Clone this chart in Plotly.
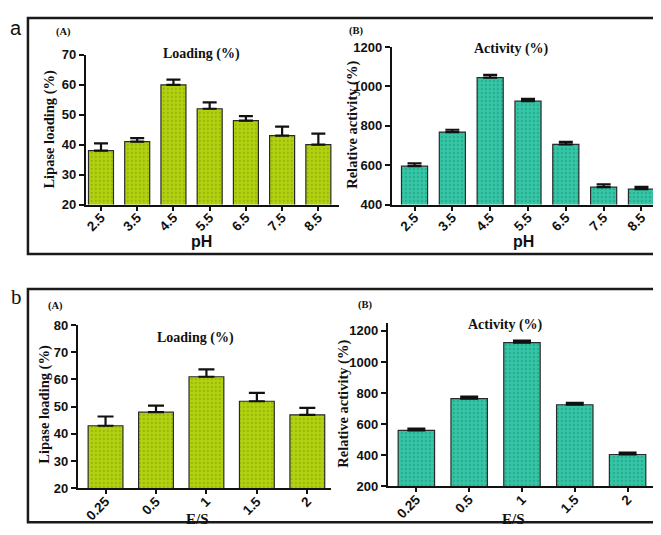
import plotly.graph_objects as go

ph_labels = ["2.5", "3.5", "4.5", "5.5", "6.5", "7.5", "8.5"]
ph_loading = [38, 41, 60, 52, 48, 43, 40]
ph_loading_err = [2.4, 1.2, 1.7, 2.1, 1.5, 3.0, 3.7]
ph_activity = [595, 768, 1045, 925, 706, 488, 478]
ph_activity_err = [14, 12, 14, 12, 12, 14, 12]

es_labels = ["0.25", "0.5", "1", "1.5", "2"]
es_loading = [43, 48, 61, 52, 47]
es_loading_err = [3.4, 2.4, 2.7, 3.1, 2.6]
es_activity = [560, 765, 1125, 725, 405]
es_activity_err = [12, 12, 12, 12, 12]

W, H = 661, 535
GREEN = "#b2d20f"
GREEN_DOT = "#7c9a0a"
TEAL = "#34c6a6"
TEAL_DOT = "#1d8a73"
SERIF = "Liberation Serif"
SANS = "Liberation Sans"

def px(x):
    return x / W

def py(y):
    return 1 - y / H

fig = go.Figure()

def add_bar(cats, vals, errs, color, dot, xa, ya, cap):
    fig.add_trace(go.Bar(
        x=cats, y=vals, xaxis=xa, yaxis=ya,
        marker=dict(color=color, line=dict(color="#2a2a2a", width=1.2),
                    pattern=dict(shape=".", fgcolor=dot, size=4, solidity=0.25)),
        error_y=dict(type="data", symmetric=False, array=errs,
                     arrayminus=[0] * len(errs), color="#111111",
                     thickness=2.2, width=cap),
        showlegend=False, hoverinfo="x+y",
    ))

add_bar(ph_labels, ph_loading, ph_loading_err, GREEN, GREEN_DOT, "x", "y", 7)
add_bar(ph_labels, ph_activity, ph_activity_err, TEAL, TEAL_DOT, "x2", "y2", 7)
add_bar(es_labels, es_loading, es_loading_err, GREEN, GREEN_DOT, "x3", "y3", 8)
add_bar(es_labels, es_activity, es_activity_err, TEAL, TEAL_DOT, "x4", "y4", 9)

def xaxis(domain, rng, anchor):
    return dict(domain=domain, range=rng, anchor=anchor, type="category",
                showline=True, linecolor="#111111", linewidth=2,
                ticks="outside", ticklen=4, tickwidth=1.5, tickcolor="#111111",
                tickangle=-45, ticklabelstandoff=-6,
                tickfont=dict(family=SANS, size=13.5, color="#111111", weight="bold"),
                showgrid=False, zeroline=False, fixedrange=True)

def yaxis(domain, rng, dtick, anchor):
    return dict(domain=domain, range=rng, anchor=anchor, dtick=dtick,
                showline=True, linecolor="#111111", linewidth=2,
                ticks="outside", ticklen=5, tickwidth=2, tickcolor="#111111",
                tickfont=dict(family=SANS, size=13, color="#111111", weight="bold"),
                showgrid=False, zeroline=False, fixedrange=True)

fig.update_layout(
    width=W, height=H, margin=dict(l=0, r=0, t=0, b=0),
    paper_bgcolor="white", plot_bgcolor="white", bargap=0.31,
    xaxis=xaxis([px(76), px(330)], [-0.42, 6.57], "y"),
    yaxis=yaxis([py(195), py(41)], [20, 70], 10, "x"),
    xaxis2=xaxis([px(383), px(655)], [-0.6, 6.57], "y2"),
    yaxis2=yaxis([py(195), py(33)], [400, 1200], 200, "x2"),
    xaxis3=xaxis([px(68), px(322)], [-0.55, 4.47], "y3"),
    yaxis3=yaxis([py(487), py(319)], [20, 80], 10, "x3"),
    xaxis4=xaxis([px(379), px(647)], [-0.54, 4.52], "y4"),
    yaxis4=yaxis([py(485), py(317)], [200, 1250], 200, "x4"),
)

# outer frames
for (x0, y0, x1, y1) in [(18, 3, 657, 246), (18, 282, 654, 522)]:
    fig.add_shape(type="rect", xref="paper", yref="paper",
                  x0=px(x0), x1=px(x1), y0=py(y1), y1=py(y0),
                  line=dict(color="#1a1a1a", width=2.5))

def ann(text, x, y, size, family, angle=0, bold=True):
    fig.add_annotation(text=f"<b>{text}</b>" if bold else text,
                       xref="paper", yref="paper",
                       x=px(x), y=py(y), xanchor="center", yanchor="middle",
                       showarrow=False, textangle=angle,
                       font=dict(family=family, size=size, color="#111111"))

# panel letters
ann("a", 6, 13, 20, SANS, bold=False)
ann("b", 7, 290, 21, SERIF, bold=False)

# top row
ann("(A)", 54, 17, 10.5, SERIF)
ann("Loading (%)", 192, 40, 14, SERIF)
ann("Lipase loading (%)", 40, 117, 14.5, SERIF, angle=-90)
ann("pH", 192, 233, 16, SANS)
ann("(B)", 348, 16, 10.5, SERIF)
ann("Activity (%)", 503, 35, 14, SERIF)
ann("Relative activity (%)", 344, 113, 14.5, SERIF, angle=-90)
ann("pH", 515, 233, 16, SANS)

# bottom row
ann("(A)", 46, 299, 10.5, SERIF)
ann("Loading (%)", 186, 332, 14, SERIF)
ann("Lipase loading (%)", 35, 400, 14.5, SERIF, angle=-90)
ann("E/S", 188, 519, 15, SERIF)
ann("(B)", 357, 298, 10.5, SERIF)
ann("Activity (%)", 497, 319, 14, SERIF)
ann("Relative activity (%)", 335, 400, 14.5, SERIF, angle=-90)
ann("E/S", 505, 519, 15, SERIF)

fig.write_html("out.html")
